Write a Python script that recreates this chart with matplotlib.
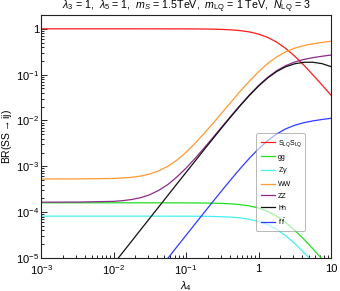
import math

import matplotlib
matplotlib.use("Agg")
import matplotlib.pyplot as plt
from matplotlib.ticker import FixedLocator, FuncFormatter, LogLocator, NullFormatter

plt.rcParams["font.family"] = ["Liberation Sans", "DejaVu Sans"]
plt.rcParams["mathtext.fontset"] = "custom"
plt.rcParams["mathtext.rm"] = "Liberation Sans"
plt.rcParams["mathtext.it"] = "Liberation Sans:italic"

# lambda_4 grid
lam4 = [1e-3, 10**-2.5, 1e-2, 10**-1.875, 10**-1.75, 10**-1.625, 10**-1.5, 10**-1.375,
        10**-1.25, 10**-1.125, 1e-1, 10**-0.875, 10**-0.75, 10**-0.625, 10**-0.5,
        10**-0.375, 10**-0.25, 10**-0.125, 1.0, 10**0.125, 10**0.25, 10**0.375,
        10**0.5, 10**0.625, 10**0.75, 10**0.875, 10.0]

br_lqlq = [0.9991, 0.9991, 0.999, 0.999, 0.999, 0.9989, 0.9988, 0.9985,
           0.9981, 0.9973, 0.996, 0.9937, 0.9896, 0.9824, 0.9698,
           0.9482, 0.9121, 0.8543, 0.7679, 0.651, 0.5128, 0.3729,
           0.252, 0.1609, 0.099, 0.0597, 0.0357]
br_gg = [1.6e-4, 1.6e-4, 1.6e-4, 1.6e-4, 1.6e-4, 1.599e-4, 1.598e-4, 1.598e-4,
         1.597e-4, 1.596e-4, 1.594e-4, 1.59e-4, 1.583e-4, 1.572e-4, 1.552e-4,
         1.517e-4, 1.459e-4, 1.367e-4, 1.229e-4, 1.042e-4, 8.2e-5, 5.97e-5,
         4.03e-5, 2.58e-5, 1.585e-5, 9.56e-6, 5.71e-6]
br_zgam = [8.19e-5, 8.19e-5, 8.19e-5, 8.19e-5, 8.19e-5, 8.19e-5, 8.19e-5, 8.18e-5,
           8.18e-5, 8.17e-5, 8.17e-5, 8.15e-5, 8.11e-5, 8.06e-5, 7.95e-5,
           7.78e-5, 7.48e-5, 7.0e-5, 6.3e-5, 5.34e-5, 4.2e-5, 3.06e-5,
           2.07e-5, 1.32e-5, 8.12e-6, 4.9e-6, 2.93e-6]
br_ww = [5.3e-4, 5.31e-4, 5.44e-4, 5.56e-4, 5.77e-4, 6.14e-4, 6.79e-4, 8.0e-4,
         1.002e-3, 1.37e-3, 2.02e-3, 3.18e-3, 5.22e-3, 8.81e-3, 0.01506,
         0.02579, 0.04375, 0.07251, 0.1156, 0.17397, 0.2435, 0.3147,
         0.3781, 0.4293, 0.4698, 0.5039, 0.5355]
br_zz = [1.65e-4, 1.66e-4, 1.72e-4, 1.78e-4, 1.89e-4, 2.07e-4, 2.4e-4, 3.0e-4,
         4.01e-4, 5.87e-4, 9.11e-4, 1.49e-3, 2.51e-3, 4.3e-3, 7.43e-3,
         0.0128, 0.02178, 0.03617, 0.05772, 0.08691, 0.1217, 0.1573,
         0.189, 0.2146, 0.2349, 0.252, 0.2677]
br_hh = [7.37e-8, 7.37e-7, 7.37e-6, 1.31e-5, 2.33e-5, 4.15e-5, 7.37e-5, 1.31e-4,
         2.33e-4, 4.14e-4, 7.35e-4, 1.3e-3, 2.31e-3, 4.075e-3, 7.15e-3,
         0.01243, 0.02123, 0.0353, 0.05624, 0.0843, 0.1169, 0.1484,
         0.1729, 0.1861, 0.1865, 0.1739, 0.1499]
br_ff = [3.1e-9, 3.13e-8, 3.13e-7, 5.57e-7, 9.9e-7, 1.76e-6, 3.13e-6, 5.57e-6,
         9.88e-6, 1.76e-5, 3.12e-5, 5.53e-5, 9.8e-5, 1.73e-4, 3.04e-4,
         5.28e-4, 9.03e-4, 1.504e-3, 2.4e-3, 3.62e-3, 5.08e-3, 6.56e-3,
         7.89e-3, 8.96e-3, 9.8e-3, 0.01051, 0.01117]

series = [
    (br_lqlq, r"S$_{\rm LQ}$S$_{\rm LQ}$", "#ff1a1a"),
    (br_gg, "gg", "#22e022"),
    (br_zgam, r"Z$\gamma$", "#44f0f0"),
    (br_ww, "WW", "#ff9933"),
    (br_zz, "ZZ", "#8b2b8b"),
    (br_hh, "hh", "#111111"),
    (br_ff, r"f $\bar{\rm f}$", "#2f3cff"),
]


def pow_label(v, pos):
    if abs(v - 1) < 1e-9:
        return "1"
    if abs(v - 10) < 1e-9:
        return "10"
    return r"$10^{%d}$" % int(round(math.log10(v)))


fig = plt.figure(figsize=(3.4, 2.91), dpi=100)
ax = fig.add_axes([0.1206, 0.1134, 0.853, 0.835])

for values, label, color in series:
    ax.plot(lam4, values, color=color, lw=0.9, label=label)

ax.set_xscale("log")
ax.set_yscale("log")
ax.set_xlim(1e-3, 10)
ax.set_ylim(1e-5, 2)

ax.xaxis.set_major_locator(FixedLocator([1e-3, 1e-2, 1e-1, 1, 10]))
ax.yaxis.set_major_locator(FixedLocator([1e-5, 1e-4, 1e-3, 1e-2, 1e-1, 1]))
ax.xaxis.set_major_formatter(FuncFormatter(pow_label))
ax.yaxis.set_major_formatter(FuncFormatter(pow_label))
ax.xaxis.set_minor_locator(LogLocator(base=10, subs=range(2, 10), numticks=20))
ax.yaxis.set_minor_locator(LogLocator(base=10, subs=range(2, 10), numticks=20))
ax.xaxis.set_minor_formatter(NullFormatter())
ax.yaxis.set_minor_formatter(NullFormatter())
ax.tick_params(which="both", direction="in", labelsize=8, width=0.6)
ax.tick_params(axis="y", pad=1.5)
ax.tick_params(axis="x", pad=4)
ax.tick_params(which="major", length=4)
ax.tick_params(which="minor", length=2)
for side in ax.spines.values():
    side.set_linewidth(0.8)
    side.set_color("#222222")

ax.set_xlabel(r"$\lambda_4$", fontsize=8, labelpad=1)
ax.set_ylabel(r"BR(SS$\rightarrow$ij)", fontsize=7.5, labelpad=1)
ax.set_title(r"$\lambda_3$ = 1,  $\lambda_5$ = 1,  $m_S$ = 1.5TeV,  $m_{\rm LQ}$ = 1 TeV,  $N_{\rm LQ}$ = 3",
             fontsize=7.7, pad=2)

leg = ax.legend(loc="lower left", bbox_to_anchor=(0.731, 0.095, 0.19, 0.38), mode="expand",
                fontsize=5, frameon=True, fancybox=True, framealpha=0.6,
                edgecolor="#888888", handlelength=1.9, labelspacing=0.68,
                borderpad=0.7, handletextpad=0.5)
leg.get_frame().set_linewidth(0.7)

fig.savefig("out.png", dpi=100)
